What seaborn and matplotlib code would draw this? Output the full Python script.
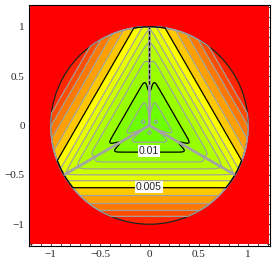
"""
Three-fold symmetric contour plot on the unit disc, Mathematica style.
"""

import numpy as np
import matplotlib
matplotlib.use("Agg")
import matplotlib.pyplot as plt
import seaborn as sns

# ── Data ──────────────────────────────────────────────────────
# contour values and their distance from the centre along the lower axis
levels = [0.012, 0.011, 0.010, 0.009, 0.008, 0.007, 0.006,
          0.005, 0.004, 0.003, 0.002, 0.001, 0.000]
depth  = [0.09, 0.17, 0.27, 0.37, 0.44, 0.50, 0.56,
          0.63, 0.71, 0.79, 0.86, 0.92, 1.00]
peak_value = 0.0126          # value at the centre
seam_dip   = 0.0013          # drop of the value along the three seams near the centre
labelled   = [0.005, 0.01]
label_pos  = {0.01: (-0.005, -0.262), 0.005: (-0.005, -0.62)}
seam_angles = [90, 210, 330]  # degrees
band_colors = ["#ff0000",      # outside the disc
               "#ff2600", "#ff4e00", "#ff7800", "#ffa000", "#ffc800",
               "#ffff00", "#e6ff00", "#ccff00", "#b2ff00", "#99ff00",
               "#80ff00", "#6cff00", "#5cff00"]

# ── Field on a grid ───────────────────────────────────────────
n = 701
xs = np.linspace(-1.2, 1.2, n)
X, Y = np.meshgrid(xs, xs)
R = np.hypot(X, Y)

normals = [np.deg2rad(a + 180) for a in seam_angles]       # edge normals
d = np.max([X * np.cos(t) + Y * np.sin(t) for t in normals], axis=0)

seam_dist = []
for a in np.deg2rad(seam_angles):
    along = X * np.cos(a) + Y * np.sin(a)
    perp = np.abs(-X * np.sin(a) + Y * np.cos(a))
    seam_dist.append(np.where(along > 0, perp, R))
s = np.min(seam_dist, axis=0)

Z = np.interp(d, [0.0] + depth, [peak_value] + levels)
Z = Z - seam_dip * np.exp(-(s / 0.035) ** 2) * np.exp(-(R / 0.6) ** 2)
Z = np.where(R <= 1.0, Z, -0.001)

# ── Plot ──────────────────────────────────────────────────────
sns.set_style("ticks")
plt.rcParams["font.family"] = ["Liberation Serif", "DejaVu Serif"]

fig = plt.figure(figsize=(2.73, 2.73), dpi=100)
ax = fig.add_axes([0.106, 0.099, 0.883, 0.883])

bounds = [-0.002] + sorted(levels) + [0.013]
ax.contourf(X, Y, Z, levels=bounds, colors=band_colors)

grey_lv = [v for v in sorted(levels) if v > 0 and v not in labelled]
ax.contour(X, Y, Z, levels=grey_lv, colors="#a0a0a0", linewidths=0.85)
ax.contour(X, Y, Z, levels=labelled, colors="black", linewidths=0.9)

# seams
for a in np.deg2rad(seam_angles):
    ax.plot([0, np.cos(a)], [0, np.sin(a)], color="#a4a4a4", lw=2.0,
            solid_capstyle="butt")
ax.plot([0, 0], [0.42, 1.0], color="black", lw=0.8, dashes=(3, 2))

circle = plt.Circle((0, 0), 1.0, fill=False, color="#202020", lw=0.9)
ax.add_patch(circle)

for v in labelled:
    x0, y0 = label_pos[v]
    ax.text(x0, y0, f"{v:g}", ha="center", va="center", fontsize=7.5,
            family=["Liberation Sans", "DejaVu Sans"],
            bbox=dict(facecolor="white", edgecolor="none", pad=0.8))

ax.set_xlim(-1.22, 1.22)
ax.set_ylim(-1.22, 1.22)
ticks = [-1, -0.5, 0, 0.5, 1]
ax.set_xticks(ticks)
ax.set_yticks(ticks)
ax.set_xticklabels(["\u22121", "\u22120.5", "0", "0.5", "1"])
ax.set_yticklabels(["\u22121", "\u22120.5", "0", "0.5", "1"])
ax.set_xticks(np.arange(-1.2, 1.21, 0.1), minor=True)
ax.set_yticks(np.arange(-1.2, 1.21, 0.1), minor=True)
ax.tick_params(which="both", direction="in", top=True, right=True,
               labelsize=8, width=0.6, pad=3)
ax.tick_params(which="major", length=4)
ax.tick_params(which="minor", length=2)
for sp in ax.spines.values():
    sp.set_linewidth(0.8)
    sp.set_color("black")

fig.savefig("out.png", dpi=100)
plt.close(fig)
